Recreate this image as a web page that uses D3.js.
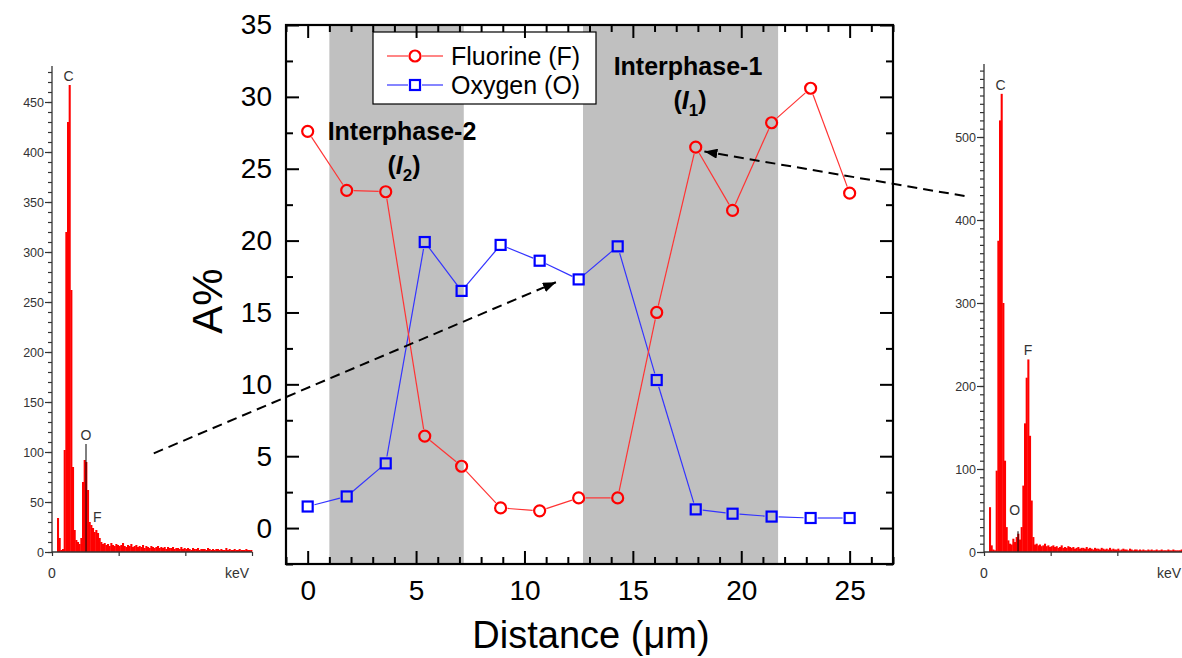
<!DOCTYPE html>
<html>
<head>
<meta charset="utf-8">
<script src="https://cdn.jsdelivr.net/npm/d3@7"></script>
<style>
body{margin:0;background:#fff}
svg{display:block;font-family:Arial,"Liberation Sans",sans-serif}
</style>
</head>
<body>
<main></main>
<script>
// line scan across the interphases
const distance = [0, 1.8, 3.6, 5.4, 7.1, 8.9, 10.7, 12.5, 14.3, 16.1, 17.9, 19.6, 21.4, 23.2, 25];
const fluorine = [27.6, 23.5, 23.4, 6.4, 4.3, 1.4, 1.2, 2.1, 2.1, 15.0, 26.5, 22.1, 28.2, 30.6, 23.3];
const oxygen   = [1.5, 2.2, 4.5, 19.9, 16.5, 19.7, 18.6, 17.3, 19.6, 10.3, 1.3, 1.0, 0.8, 0.7, 0.7];
const bands = [[1.0, 7.2], [12.7, 21.7]];
const xMajor = [0, 5, 10, 15, 20, 25];
const yMajor = [0, 5, 10, 15, 20, 25, 30, 35];

// EDS spectra, counts per 0.025 keV channel starting at 0 keV
const chanWidth = 0.025;
const specLeft = [0,0,0,34,14,2,3,102,320,430,467,262,85,22,12,10,8,14,70,92,90,62,30,27,24,20,22,19,14,10,8,
  9,7,8,6,9,7,6,8,7,6,7,9,6,5,7,6,8,5,6,7,
  5,6,5,7,4,6,5,4,6,5,4,5,6,4,5,4,5,3,5,4,
  4,5,3,4,4,3,5,3,4,3,4,3,2,4,3,3,4,2,3,3,
  3,2,4,3,2,3,2,3,3,2,3,2,2,4,2,3,2,2,3,2,
  2,3,2,2,2,3,2,2,2];
const specRight = [0,0,0,54,8,3,2,98,375,520,552,300,110,30,14,10,9,16,12,18,22,15,30,80,155,210,232,140,62,18,9,
  10,8,9,7,8,10,7,8,6,7,8,6,7,5,6,8,5,6,5,7,
  6,5,6,4,5,6,4,5,5,4,6,4,5,4,3,5,4,4,3,5,
  4,3,4,3,5,3,4,3,3,4,2,3,4,3,3,2,4,3,2,3,
  3,2,3,2,3,2,2,3,2,3,2,2,3,2,2,3,2,2,2,3,
  2,2,3,2,2,2,2,3,2];
const peaksLeft = [{el:"C", e:0.25, c:467}, {el:"O", e:0.51, c:108}, {el:"F", e:0.68, c:26}];
const peaksRight = [{el:"C", e:0.25, c:552}, {el:"O", e:0.46, c:40}, {el:"F", e:0.66, c:232}];
const oMarkLeft = 108, oMarkRight = 25;

const W = 1182, H = 658;
const svg = d3.select("main").append("svg").attr("width", W).attr("height", H);

svg.append("defs").append("marker")
  .attr("id", "head")
  .attr("markerUnits", "userSpaceOnUse")
  .attr("viewBox", "0 -5 13 10")
  .attr("refX", 13).attr("refY", 0)
  .attr("markerWidth", 13).attr("markerHeight", 10)
  .attr("orient", "auto")
  .append("path").attr("d", "M0,-5L13,0L0,5Z").attr("fill", "#000");

// ---------- main chart ----------
const pL = 286, pR = 893, pT = 25, pB = 564;
const x = d3.scaleLinear().domain([-1, 27]).range([pL, pR]);
const y = d3.scaleLinear().domain([-2.5, 35]).range([pB, pT]);

svg.append("clipPath").attr("id", "frame")
  .append("rect").attr("x", pL).attr("y", pT).attr("width", pR - pL).attr("height", pB - pT);

const plot = svg.append("g").attr("clip-path", "url(#frame)");
plot.selectAll(".band").data(bands).enter().append("rect")
  .attr("class", "band")
  .attr("x", d => x(d[0])).attr("width", d => x(d[1]) - x(d[0]))
  .attr("y", pT).attr("height", pB - pT)
  .attr("fill", "#c0c0c0");

function drawSeries(vals, color, lineColor, shape) {
  const pts = vals.map((v, i) => [x(distance[i]), y(v)]);
  const gap = 7;
  for (let i = 0; i < pts.length - 1; i++) {
    const [x1, y1] = pts[i], [x2, y2] = pts[i + 1];
    const d = Math.hypot(x2 - x1, y2 - y1);
    if (d <= 2 * gap) continue;
    const ux = (x2 - x1) / d, uy = (y2 - y1) / d;
    plot.append("line")
      .attr("x1", x1 + ux * gap).attr("y1", y1 + uy * gap)
      .attr("x2", x2 - ux * gap).attr("y2", y2 - uy * gap)
      .attr("stroke", lineColor).attr("stroke-width", 1.2);
  }
  if (shape === "circle") {
    plot.selectAll(null).data(pts).enter().append("circle")
      .attr("cx", d => d[0]).attr("cy", d => d[1]).attr("r", 5.5)
      .attr("fill", "none").attr("stroke", color).attr("stroke-width", 2.2);
  } else {
    plot.selectAll(null).data(pts).enter().append("rect")
      .attr("x", d => d[0] - 5).attr("y", d => d[1] - 5)
      .attr("width", 10).attr("height", 10)
      .attr("fill", "none").attr("stroke", color).attr("stroke-width", 2.2);
  }
}
drawSeries(oxygen, "#0000ff", "#3333ff", "square");
drawSeries(fluorine, "#ff0000", "#ff3333", "circle");

// interphase labels
function phaseLabel(cx, cy, name, sub) {
  svg.append("text").attr("x", cx).attr("y", cy).attr("text-anchor", "middle")
    .attr("font-size", 25).attr("font-weight", "bold").text(name);
  const t = svg.append("text").attr("x", cx + 2).attr("y", cy + 34).attr("text-anchor", "middle")
    .attr("font-size", 25).attr("font-weight", "bold");
  t.append("tspan").text("(");
  t.append("tspan").attr("font-style", "italic").text("I");
  t.append("tspan").attr("font-size", 17).attr("dy", 7).text(sub);
  t.append("tspan").attr("dy", -7).text(")");
}
phaseLabel(402, 140, "Interphase-2", "2");
phaseLabel(688, 75, "Interphase-1", "1");

// legend
const lg = svg.append("g");
lg.append("rect").attr("x", 373).attr("y", 32).attr("width", 223).attr("height", 72)
  .attr("fill", "#fff").attr("stroke", "#000").attr("stroke-width", 1.2);
[["Fluorine (F)", "#ff0000", "#ff3333", "circle"], ["Oxygen (O)", "#0000ff", "#3333ff", "square"]].forEach((s, i) => {
  const ly = 56 + i * 29;
  lg.append("line").attr("x1", 387).attr("x2", 408).attr("y1", ly).attr("y2", ly).attr("stroke", s[2]).attr("stroke-width", 1.2);
  lg.append("line").attr("x1", 422).attr("x2", 443).attr("y1", ly).attr("y2", ly).attr("stroke", s[2]).attr("stroke-width", 1.2);
  if (s[3] === "circle")
    lg.append("circle").attr("cx", 415).attr("cy", ly).attr("r", 5.5).attr("fill", "none").attr("stroke", s[1]).attr("stroke-width", 2.2);
  else
    lg.append("rect").attr("x", 410).attr("y", ly - 5).attr("width", 10).attr("height", 10).attr("fill", "none").attr("stroke", s[1]).attr("stroke-width", 2.2);
  lg.append("text").attr("x", 451).attr("y", ly + 9).attr("font-size", 25).text(s[0]);
});

// frame and ticks
const xMinor = d3.range(-1, 28).filter(v => v % 5 !== 0);
const yMinor = d3.range(-2.5, 35, 5);
function styleAxis(g) {
  g.select(".domain").remove();
  g.selectAll("line").attr("stroke", "#000").attr("stroke-width", 2);
  g.selectAll("text").attr("font-size", 28).attr("fill", "#000");
}
svg.append("g").attr("transform", `translate(0,${pB})`)
  .call(d3.axisBottom(x).tickValues(xMajor).tickSize(-13).tickPadding(16)).call(styleAxis);
svg.append("g").attr("transform", `translate(0,${pB})`)
  .call(d3.axisBottom(x).tickValues(xMinor).tickSize(-7).tickFormat("")).call(styleAxis);
svg.append("g").attr("transform", `translate(0,${pT})`)
  .call(d3.axisTop(x).tickValues(xMajor).tickSize(-13).tickFormat("")).call(styleAxis);
svg.append("g").attr("transform", `translate(0,${pT})`)
  .call(d3.axisTop(x).tickValues(xMinor).tickSize(-7).tickFormat("")).call(styleAxis);
svg.append("g").attr("transform", `translate(${pL},0)`)
  .call(d3.axisLeft(y).tickValues(yMajor).tickSize(-13).tickPadding(14)).call(styleAxis);
svg.append("g").attr("transform", `translate(${pL},0)`)
  .call(d3.axisLeft(y).tickValues(yMinor).tickSize(-7).tickFormat("")).call(styleAxis);
svg.append("g").attr("transform", `translate(${pR},0)`)
  .call(d3.axisRight(y).tickValues(yMajor).tickSize(-13).tickFormat("")).call(styleAxis);
svg.append("g").attr("transform", `translate(${pR},0)`)
  .call(d3.axisRight(y).tickValues(yMinor).tickSize(-7).tickFormat("")).call(styleAxis);
svg.append("rect").attr("x", pL).attr("y", pT).attr("width", pR - pL).attr("height", pB - pT)
  .attr("fill", "none").attr("stroke", "#000").attr("stroke-width", 2.2);

svg.append("text").attr("x", 591).attr("y", 648).attr("text-anchor", "middle")
  .attr("font-size", 38).text("Distance (\u03bcm)");
svg.append("text").attr("transform", "translate(222,301) rotate(-90)").attr("text-anchor", "middle")
  .attr("font-size", 42).text("A%");

// ---------- spectra insets ----------
function spectrum(data, peaks, oMark, x0, yMax, majorStep) {
  const sx = d3.scaleLinear().domain([0, 3]).range([x0, x0 + 200]);
  const sy = d3.scaleLinear().domain([0, yMax]).range([552, 552 - yMax * (majorStep === 50 ? 1.0 : 0.83)]);
  const g = svg.append("g");
  g.selectAll(null).data(data).enter().append("rect")
    .attr("x", (d, i) => sx(i * chanWidth))
    .attr("width", sx(chanWidth) - sx(0) + 0.4)
    .attr("y", d => sy(d)).attr("height", d => sy(0) - sy(d))
    .attr("fill", "#ff0000");
  g.append("line").attr("x1", sx(0.51)).attr("x2", sx(0.51)).attr("y1", sy(0)).attr("y2", sy(oMark))
    .attr("stroke", "#000").attr("stroke-width", 1);
  // axes
  const ya = g.append("g").attr("transform", `translate(${x0},0)`)
    .call(d3.axisLeft(sy).tickValues(d3.range(0, yMax, 10)).tickSize(4).tickFormat(""));
  ya.selectAll("line").attr("stroke", "#333").attr("stroke-width", 1.2);
  ya.select(".domain").attr("stroke", "#333").attr("stroke-width", 1.3).attr("d", `M0,${sy(yMax)}V${sy(0)}`);
  const yb = g.append("g").attr("transform", `translate(${x0},0)`)
    .call(d3.axisLeft(sy).tickValues(d3.range(0, yMax, majorStep)).tickSize(7).tickPadding(1));
  yb.select(".domain").remove();
  yb.selectAll("line").attr("stroke", "#333").attr("stroke-width", 1.2);
  yb.selectAll("text").attr("font-size", 12.5).attr("fill", "#333");
  const xa = g.append("g").attr("transform", `translate(0,${sy(0)})`)
    .call(d3.axisBottom(sx).tickValues([0, 1, 2, 3]).tickSize(4).tickFormat(""));
  xa.selectAll("line").attr("stroke", "#333").attr("stroke-width", 1.2);
  xa.select(".domain").attr("stroke", "#333").attr("stroke-width", 1.3).attr("d", `M${sx(0)},0H${sx(3)}`);
  g.append("text").attr("x", sx(0)).attr("y", 578).attr("text-anchor", "middle")
    .attr("font-size", 14).attr("fill", "#333").text("0");
  g.append("text").attr("x", sx(3) - 3).attr("y", 578).attr("text-anchor", "end")
    .attr("font-size", 14).attr("fill", "#333").text("keV");
  g.selectAll(null).data(peaks).enter().append("text")
    .attr("x", d => sx(d.e)).attr("y", d => sy(d.c) - 4).attr("text-anchor", "middle")
    .attr("font-size", 14).attr("fill", "#333").text(d => d.el);
}
spectrum(specLeft, peaksLeft, oMarkLeft, 52, 486, 50);
spectrum(specRight, peaksRight, oMarkRight, 984, 588, 100);

// ---------- arrows from spectra to scan points ----------
const arrows = [[[-7.1, 5.2], [11.45, 17.1]], [[30.3, 23.1], [18.3, 26.2]]];
svg.selectAll(".arrow").data(arrows).enter().append("line")
  .attr("class", "arrow")
  .attr("x1", d => x(d[0][0])).attr("y1", d => y(d[0][1]))
  .attr("x2", d => x(d[1][0])).attr("y2", d => y(d[1][1]))
  .attr("stroke", "#000").attr("stroke-width", 2).attr("stroke-dasharray", "10,6")
  .attr("marker-end", "url(#head)");
</script>
</body>
</html>
